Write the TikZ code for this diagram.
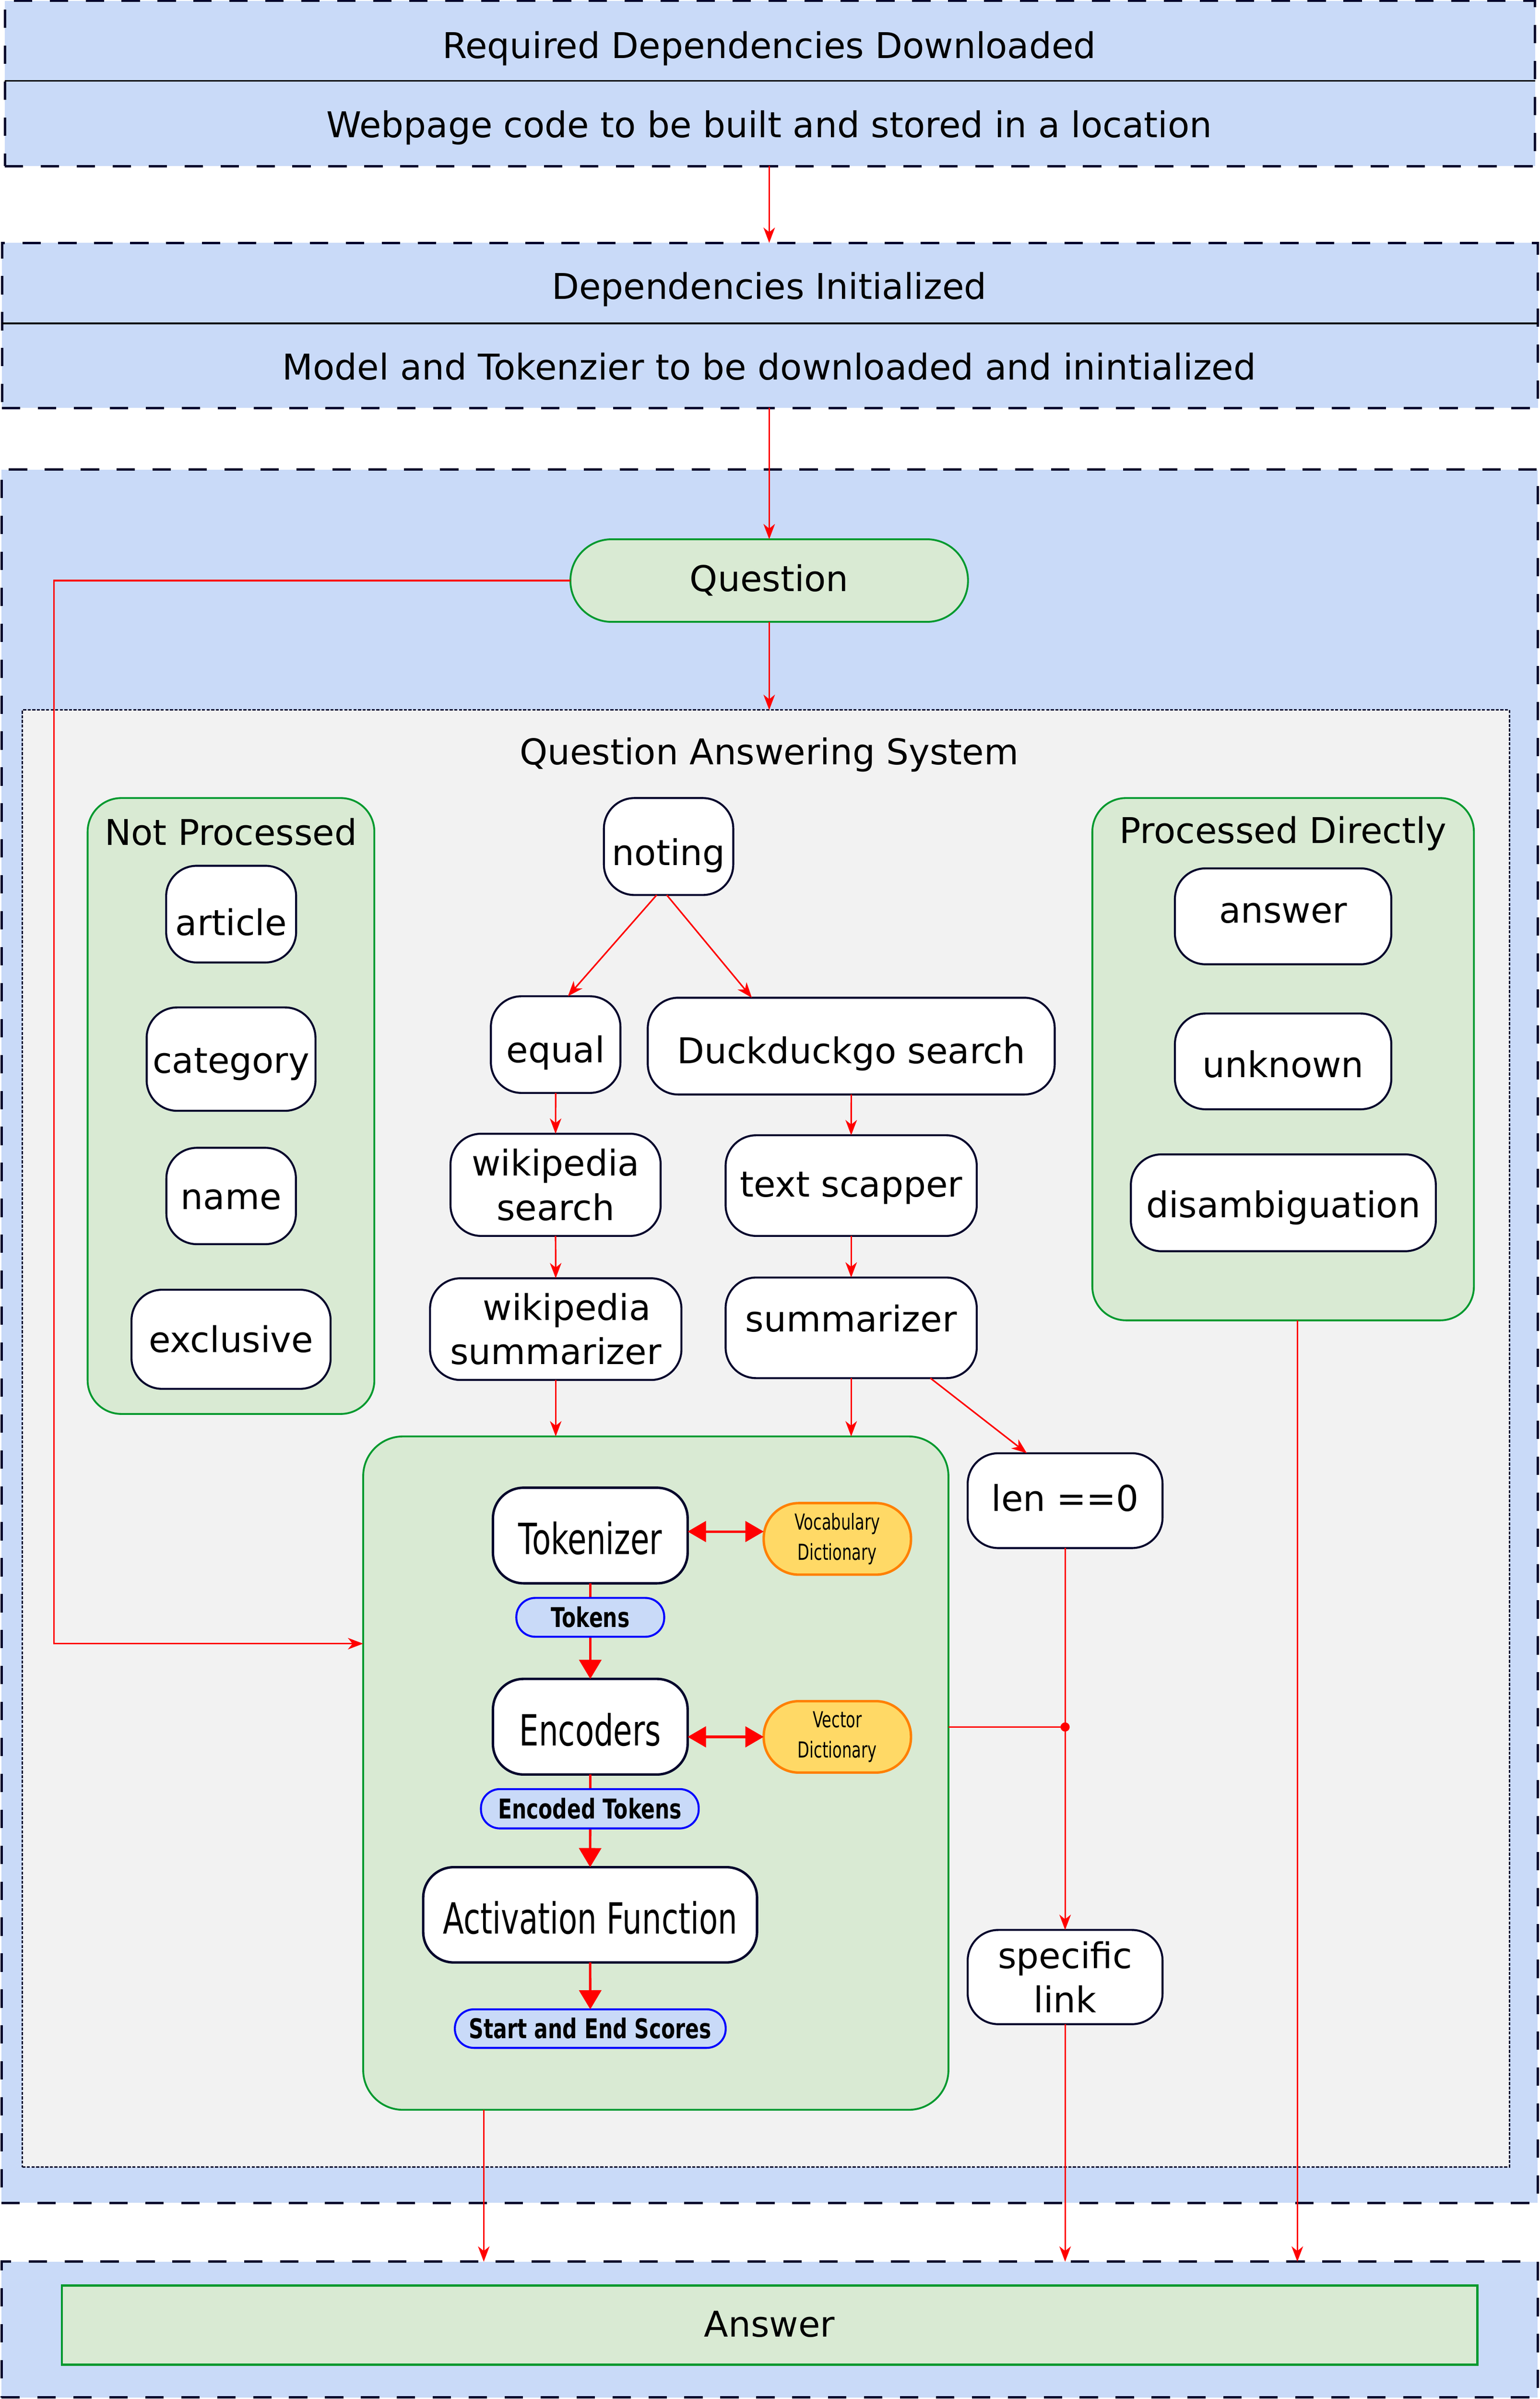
\documentclass[tikz,border=0pt]{standalone}
\usepackage{fontspec}
\setmainfont{DejaVu Sans}
\newfontfamily\procfont{DejaVu Sans}[FakeStretch=0.715]
\newfontfamily\dictfont{DejaVu Sans}[FakeStretch=0.70]
\newfontfamily\tagfont{DejaVu Sans}[FakeStretch=0.75]
\usetikzlibrary{arrows.meta}
\definecolor{bluebg}{HTML}{C9DAF8}
\definecolor{greenbg}{HTML}{D9EAD3}
\definecolor{greenln}{HTML}{00992E}
\definecolor{graybg}{HTML}{F2F2F2}
\definecolor{navy}{HTML}{00002B}
\definecolor{orangebg}{HTML}{FFD966}
\definecolor{orangeln}{HTML}{FF8000}
\definecolor{tagln}{HTML}{0000FF}
\begin{document}
\begin{tikzpicture}[x=1pt,y=-1pt,
  every node/.style={inner sep=0pt, outer sep=0pt},
  bigtxt/.style={font=\fontsize{23.2}{29}\selectfont},
  lanebox/.style={draw=navy, line width=1.5pt, dash pattern=on 12pt off 11.5pt, fill=bluebg},
  qasbox/.style={draw=navy, line width=1pt, dash pattern=on 2pt off 1pt, fill=graybg},
  wbox/.style={draw=navy, line width=1.3pt, fill=white, rounded corners=20pt, font=\fontsize{23.2}{29}\selectfont},
  tb/.style={text height=#1, text depth=0pt},
  grpbox/.style={draw=greenln, line width=1.2pt, fill=greenbg, rounded corners=#1},
  procbox/.style={draw=navy, line width=1.6pt, fill=white, rounded corners=20pt, font=\procfont\fontsize{28.1}{32}\selectfont, text height=24.8pt, text depth=0pt},
  dictbox/.style={draw=orangeln, line width=1.6pt, fill=orangebg, rounded corners=23pt, align=center, font=\dictfont\fontsize{14.4}{20}\selectfont},
  tagbox/.style={draw=tagln, line width=1.3pt, fill=bluebg, rounded corners=12.4pt, font=\tagfont\bfseries\fontsize{17.8}{20}\selectfont, text height=12.8pt, text depth=0pt},
  flow/.style={draw=red, line width=1pt, -{Stealth[length=10pt,width=7.5pt,inset=3pt]}},
  bigflow/.style={draw=red, line width=1.6pt, -{Triangle[length=12.5pt,width=14.5pt]}},
  dblflow/.style={draw=red, line width=1.6pt, {Triangle[length=12pt,width=13.5pt]}-{Triangle[length=12pt,width=13.5pt]}}
]
\useasboundingbox (0,0) rectangle (1007,1568.6);

% ---------- lanes ----------
\node[lanebox, minimum width=1000.6pt, minimum height=108.1pt] (hdr1) at (503.5,54.6) {};
\draw[black, line width=1.1pt] (3.2,52.9) -- (1003.8,52.9);
\node[bigtxt, anchor=base] (t1a) at (503,38.2) {Required Dependencies Downloaded};
\node[bigtxt, anchor=base] (t1b) at (503,89.9) {Webpage code to be built and stored in a location};

\node[lanebox, minimum width=1004.4pt, minimum height=108pt] (hdr2) at (503.5,212.8) {};
\draw[black, line width=1.1pt] (1.3,211.4) -- (1005.7,211.4);
\node[bigtxt, anchor=base] (t2a) at (503,195.5) {Dependencies Initialized};
\node[bigtxt, anchor=base] (t2b) at (503,248.3) {Model and Tokenzier to be downloaded and inintialized};

\node[lanebox, minimum width=1004.5pt, minimum height=1133.3pt] (big) at (503.25,873.7) {};
\node[lanebox, minimum width=1004.5pt, minimum height=88.7pt] (ansout) at (503.25,1523.15) {};
\node[draw=greenln, line width=1.5pt, fill=greenbg, minimum width=925.5pt, minimum height=51.7pt, bigtxt, tb=15.2pt] (ans) at (503.25,1520.35) {Answer};

% ---------- question ----------
\node[draw=greenln, line width=1.2pt, fill=greenbg, rounded corners=26.9pt, minimum width=260pt, minimum height=54pt, bigtxt, tb=14.2pt] (q) at (503,379.6) {Question};

% ---------- QA system ----------
\node[qasbox, minimum width=972.4pt, minimum height=952.7pt] (qas) at (500.8,940.55) {};
\node[bigtxt, anchor=base] (qast) at (503,500) {Question Answering System};

\node[grpbox=22pt, minimum width=187.5pt, minimum height=402.7pt] (np) at (151.05,723.15) {};
\node[bigtxt, anchor=base] (npt) at (151,552.6) {Not Processed};
\node[wbox, tb=28pt, minimum width=85pt, minimum height=63.2pt] (article) at (151.15,597.7) {article};
\node[wbox, tb=18.4pt, minimum width=110.4pt, minimum height=67.6pt] (category) at (151.1,692.5) {category};
\node[wbox, tb=17.4pt, minimum width=84.7pt, minimum height=63pt] (name) at (151.15,782) {name};
\node[wbox, tb=17pt, minimum width=130.2pt, minimum height=64.8pt] (exclusive) at (151.1,875.7) {exclusive};

\node[grpbox=22pt, minimum width=249.5pt, minimum height=341.5pt] (pd) at (839.05,692.55) {};
\node[bigtxt, anchor=base] (pdt) at (839,551.3) {Processed Directly};
\node[wbox, tb=8.6pt, minimum width=141.5pt, minimum height=62.7pt] (answer) at (839.05,599.15) {answer};
\node[wbox, tb=21pt, minimum width=141.5pt, minimum height=62.6pt] (unknown) at (839.05,694) {unknown};
\node[wbox, tb=19pt, minimum width=199.4pt, minimum height=63.3pt] (disamb) at (839.2,786.45) {disambiguation};

\node[wbox, tb=24.8pt, minimum width=84.6pt, minimum height=63.4pt] (noting) at (437.2,553.5) {noting};
\node[wbox, tb=23.6pt, minimum width=84.7pt, minimum height=63.2pt] (equal) at (363.35,683) {equal};
\node[wbox, tb=23pt, minimum width=266.1pt, minimum height=63.3pt] (duck) at (556.65,684) {Duckduckgo search};
\node[wbox, align=center, minimum width=137.4pt, minimum height=66.8pt] (wsearch) at (363.3,774.7) {wikipedia\\search};
\node[wbox, align=center, minimum width=164.4pt, minimum height=66.5pt] (wsumm) at (363.4,869.05) {\hspace*{14.6pt}wikipedia\\summarizer};
\node[wbox, tb=14.6pt, minimum width=164.2pt, minimum height=65.8pt] (textsc) at (556.6,775.2) {text scapper};
\node[wbox, tb=4.8pt, minimum width=164.2pt, minimum height=65.8pt] (summ) at (556.6,868.2) {summarizer};
\node[wbox, tb=13.8pt, minimum width=127.4pt, minimum height=62pt] (len0) at (696.5,981.2) {len ==0};
\node[wbox, align=center, minimum width=127.4pt, minimum height=61.6pt] (spec) at (696.5,1292.7) {specific\\link};

% ---------- model box ----------
\node[grpbox=26pt, minimum width=382.7pt, minimum height=440.3pt] (gbox) at (428.85,1159.35) {};
\node[procbox, minimum width=127.3pt, minimum height=62.5pt] (tok) at (386,1004) {Tokenizer};
\node[procbox, minimum width=127.3pt, minimum height=62.5pt] (enc) at (386,1129) {Encoders};
\node[procbox, minimum width=218.3pt, minimum height=62.3pt] (act) at (385.9,1252) {Activation Function};
\node[dictbox, minimum width=96.3pt, minimum height=46.8pt] (voc) at (547.55,1006.2) {Vocabulary\\Dictionary};
\node[dictbox, minimum width=96.3pt, minimum height=46.7pt] (vec) at (547.55,1135.65) {Vector\\Dictionary};

% ---------- connectors ----------
\draw[flow] (hdr1.south -| q.north) -- (hdr2.north -| q.north);
\draw[flow] (hdr2.south -| q.north) -- (q.north);
\draw[flow] (q.south) -- (q.south |- qas.north);
\coordinate (lc1) at (35.3,379.6);
\coordinate (lc2) at (35.3,1074.7);
\draw[flow] (q.west) -- (lc1) -- (lc2) -- (lc2 -| gbox.west);

\draw[flow] ([xshift=-7.8pt]noting.south) -- ([xshift=8pt]equal.north);
\draw[flow] ([xshift=-1.2pt]noting.south) -- ([xshift=-65pt]duck.north);
\draw[flow] (equal.south) -- (wsearch.north);
\draw[flow] (wsearch.south) -- (wsumm.north);
\draw[flow] (duck.south) -- (textsc.north);
\draw[flow] (textsc.south) -- (summ.north);
\draw[flow] (wsumm.south) -- (wsumm.south |- gbox.north);
\draw[flow] (summ.south) -- (summ.south |- gbox.north);
\draw[flow] ([xshift=51.8pt]summ.south) -- ([xshift=-25pt]len0.north);
\draw[flow] (len0.south) -- (spec.north);
\coordinate (jn) at (696.5,1129.2);
\draw[red, line width=1pt] (jn -| gbox.east) -- (jn);
\fill[red] (jn) circle (3pt);
\draw[flow] (spec.south) -- (spec.south |- ansout.north);
\draw[flow] ([xshift=9.3pt]pd.south) -- ([xshift=9.3pt]pd.south |- ansout.north);
\draw[flow] ([xshift=-112.5pt]gbox.south) -- ([xshift=-112.5pt]gbox.south |- ansout.north);

\draw[bigflow] (tok.south) -- (enc.north);
\draw[bigflow] (enc.south) -- (act.north);
\draw[dblflow] ([yshift=2.6pt]tok.east) -- ([yshift=2.6pt]tok.east -| voc.west);
\draw[dblflow] (enc.east |- vec.west) -- (vec.west);

\node[tagbox, minimum width=96.7pt, minimum height=25.4pt] (tokens) at (386,1057.5) {Tokens};
\node[tagbox, minimum width=142.4pt, minimum height=25.7pt] (enctok) at (385.7,1182.65) {Encoded Tokens};
\node[tagbox, minimum width=177.1pt, minimum height=25.2pt] (scores) at (386,1326.4) {Start and End Scores};
\draw[bigflow] (act.south) -- (scores.north);
\end{tikzpicture}
\end{document}
